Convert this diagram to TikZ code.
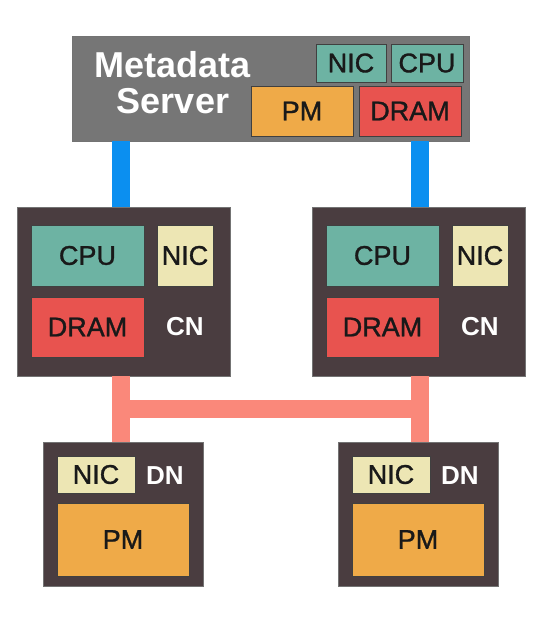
\documentclass[tikz,border=0pt]{standalone}
\usepackage{fontspec}
\setmainfont{Liberation Sans}
\newfontfamily\partfont[FakeBold=1.2]{Liberation Sans}
\definecolor{msgray}{HTML}{767676}
\definecolor{nodedark}{HTML}{4A3D40}
\definecolor{cputeal}{HTML}{6DB3A3}
\definecolor{nicyellow}{HTML}{EDE6B4}
\definecolor{dramred}{HTML}{E8534F}
\definecolor{pmorange}{HTML}{EFAA48}
\definecolor{linkblue}{HTML}{0B8FF0}
\definecolor{linksalmon}{HTML}{FA887A}

\begin{document}
\begin{tikzpicture}[x=1pt,y=-1pt,
	box/.style={draw=black!55,line width=0.8pt,inner sep=0pt},
	part/.style={draw=black!75,line width=0.8pt,inner sep=0pt,text=black!90,font=\partfont\fontsize{27}{30}\selectfont},
	tag/.style={text=white,inner sep=0pt,font=\bfseries\fontsize{26}{30}\selectfont},
	size/.style 2 args={minimum width=#1,minimum height=#2},
	rdma/.style={linkblue,line width=18pt},
	fabric/.style={linksalmon,line width=18pt}]
	\useasboundingbox (0,0) rectangle (543,625);

	% (metadata server)
	\node[box,fill=msgray,size={397}{105}] (ms) at (270.5,88.5) {};
	\node[tag,align=center,font=\bfseries\fontsize{36}{36}\selectfont] (mslabel) at (173,83) {Metadata\\Server};
	\node[part,fill=cputeal,size={70}{38}] (msnic) at (351,63) {NIC};
	\node[part,fill=cputeal,size={72}{38}] (mscpu) at (427,63) {CPU};
	\node[part,fill=pmorange,size={102}{50}] (mspm) at (302,111) {PM};
	\node[part,fill=dramred,size={102}{50}] (msdram) at (410,111) {DRAM};

	% (compute nodes)
	\node[box,fill=nodedark,size={213}{169}] (cnl) at (123.5,291.5) {};
	\node[part,fill=cputeal,size={113}{61}] (cnlcpu) at (87.5,255.5) {CPU};
	\node[part,fill=nicyellow,size={56}{61}] (cnlnic) at (185,255.5) {NIC};
	\node[part,fill=dramred,size={113}{60}] (cnldram) at (87.5,327) {DRAM};
	\node[tag] (cnltag) at (185,327) {CN};

	\node[box,fill=nodedark,size={213}{169}] (cnr) at (418.5,291.5) {};
	\node[part,fill=cputeal,size={113}{61}] (cnrcpu) at (382.5,255.5) {CPU};
	\node[part,fill=nicyellow,size={56}{61}] (cnrnic) at (480,255.5) {NIC};
	\node[part,fill=dramred,size={113}{60}] (cnrdram) at (382.5,327) {DRAM};
	\node[tag] (cnrtag) at (480,327) {CN};

	% (data nodes)
	\node[box,fill=nodedark,size={160}{144}] (dnl) at (123,514) {};
	\node[part,fill=nicyellow,size={78}{37}] (dnlnic) at (96,474.5) {NIC};
	\node[tag] (dnltag) at (165,476) {DN};
	\node[part,fill=pmorange,size={132}{73}] (dnlpm) at (123,539.5) {PM};

	\node[box,fill=nodedark,size={160}{144}] (dnr) at (418,514) {};
	\node[part,fill=nicyellow,size={78}{37}] (dnrnic) at (391,474.5) {NIC};
	\node[tag] (dnrtag) at (460,476) {DN};
	\node[part,fill=pmorange,size={132}{73}] (dnrpm) at (418,539.5) {PM};

	% (links)
	\coordinate (lcol) at (121,0);
	\coordinate (rcol) at (420,0);
	\coordinate (bus) at (0,409);
	\draw[rdma] (ms.south -| lcol) -- (cnl.north -| lcol);
	\draw[rdma] (ms.south -| rcol) -- (cnr.north -| rcol);
	\draw[fabric] (cnl.south -| lcol) -- (dnl.north -| lcol);
	\draw[fabric] (cnr.south -| rcol) -- (dnr.north -| rcol);
	\draw[fabric] (bus -| lcol) -- (bus -| rcol);

\end{tikzpicture}
\end{document}
